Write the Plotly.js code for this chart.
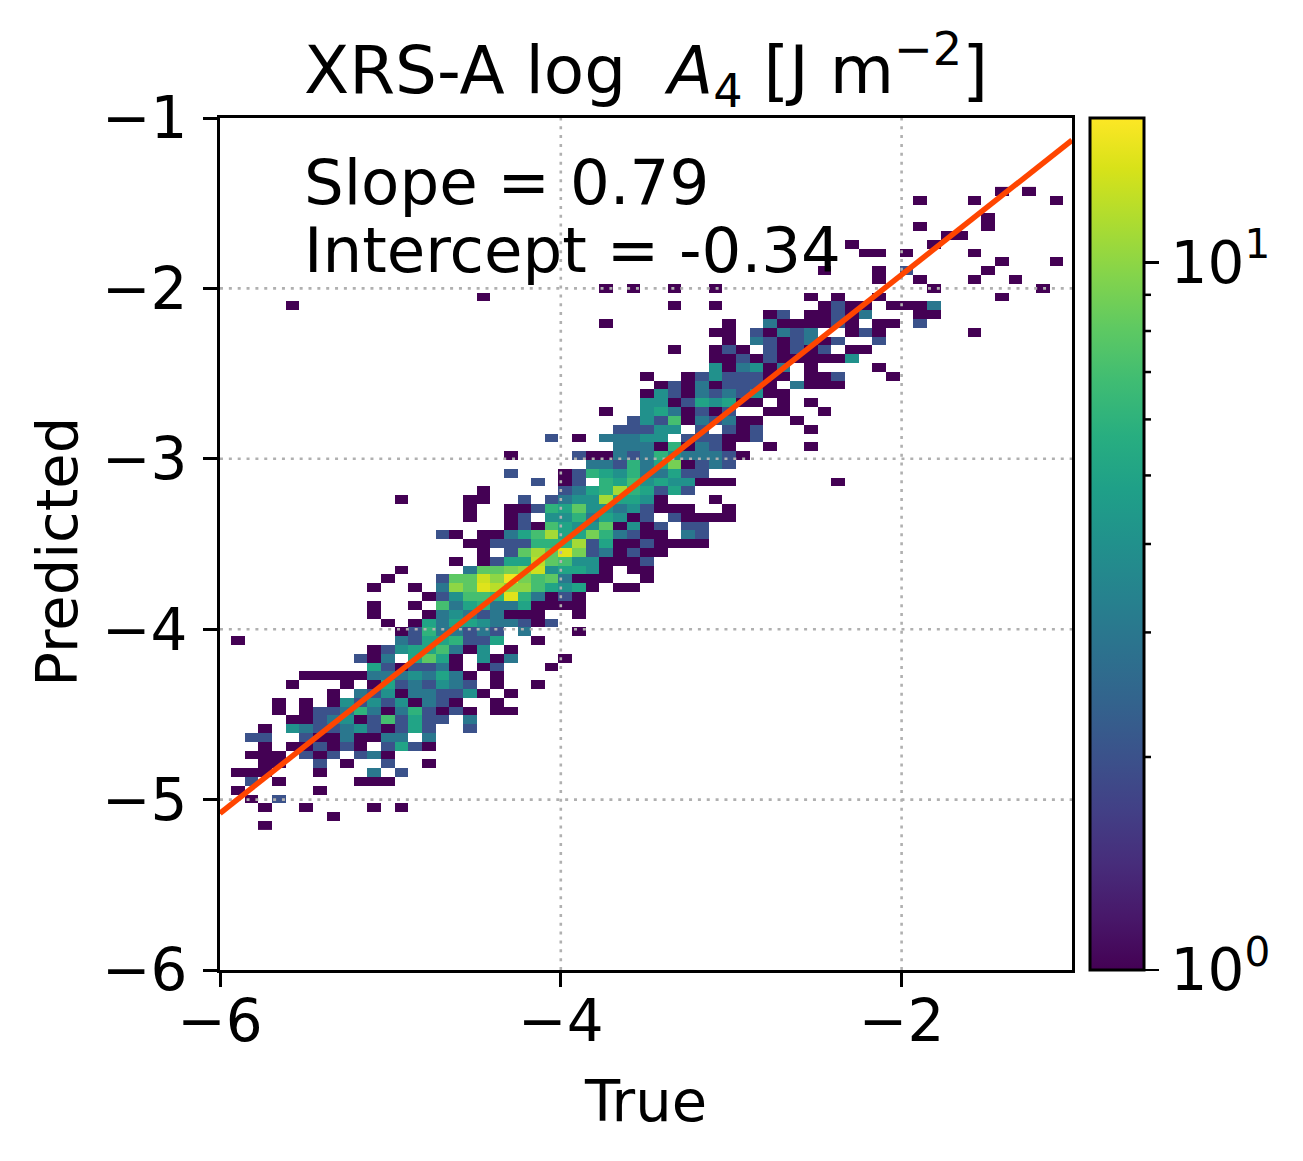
<!DOCTYPE html>
<html>
<head>
<meta charset="utf-8">
<title>XRS-A log A4</title>
<script src="https://cdn.plot.ly/plotly-3.0.1.min.js"></script>
<style>
  html, body { margin: 0; padding: 0; background: #fff; }
</style>
</head>
<body>
<div id="chart" style="width:1303px;height:1161px;"></div>
<script>
// Histogram bins
const BIN_X0 = -5.8954;
const BIN_DX = 0.0801;
const BIN_Y0 = -5.1526;
const BIN_DY = 0.0517;
const N_COLS = 62;
const N_ROWS = 73;
const COUNT_MAX = 16;

// [row from bottom, first column, counts in that row (0 = empty)]
const histSegments = [
  [0, 2, [1]],
  [1, 7, [1]],
  [2, 2, [1,0,0,1,0,0,0,0,1,0,1]],
  [3, 1, [1,0,2]],
  [4, 0, [1,0,0,0,0,0,1]],
  [5, 1, [2,0,1,0,0,0,0,0,1,1,1]],
  [6, 0, [1,1,1,0,0,0,1,0,0,0,3,0,2]],
  [7, 2, [1,1,0,0,2,0,1,0,0,2,0,0,1]],
  [8, 1, [1,1,1,0,2,1,2,0,2,3,1]],
  [9, 2, [1,0,1,1,2,1,2,1,0,2,5,2,1]],
  [10, 1, [2,2,0,0,2,1,1,3,1,1,3,3,0,3]],
  [11, 2, [1,0,4,3,2,2,3,4,2,1,2,5,2,0,0,2]],
  [12, 4, [1,1,2,3,4,1,2,7,2,5,2,2,0,3]],
  [13, 3, [1,0,1,2,2,3,6,3,1,3,6,2,1,2,1,0,1,1]],
  [14, 3, [1,0,1,0,1,4,2,4,2,4,1,3,2,1,0,0,1]],
  [15, 7, [1,0,3,2,4,1,3,3,2,2,4,1,0,1]],
  [16, 4, [1,0,0,0,1,0,1,5,2,3,2,4,3,2,0,1,0,0,1]],
  [17, 5, [1,1,1,1,1,3,3,3,4,3,5,3,1,0,1]],
  [18, 10, [5,2,1,2,2,3,1,0,1,2,0,0,0,1]],
  [19, 9, [2,1,3,0,5,8,5,1,0,4,1,3,0,0,0,1]],
  [20, 10, [1,2,4,5,5,7,3,1,4,0,1]],
  [21, 0, [1]],
  [21, 12, [3,2,5,5,6,2,2,5,0,0,1]],
  [22, 12, [1,2,6,3,3,2,3,2,0,3,0,0,0,1]],
  [23, 11, [1,0,1,5,3,5,5,4,3,3,2,1,2]],
  [24, 10, [1,0,0,0,1,3,4,3,2,3,1,1,1,0,0,1]],
  [25, 10, [1,0,0,1,0,7,3,5,6,3,3,5,1,1,1,1]],
  [26, 14, [1,2,4,7,7,6,14,6,3,1,2,1]],
  [27, 10, [1,0,0,1,0,3,10,8,14,12,10,10,7,5,4,5,1,0,1,1]],
  [28, 11, [1,0,0,0,2,8,8,13,10,15,9,7,8,3,1,1,1,0,0,1]],
  [29, 12, [1,0,0,0,0,3,8,8,9,10,13,4,5,5,4,1,0,1,1]],
  [30, 16, [1,0,1,2,5,5,12,8,7,4,4,1,1,1,2]],
  [31, 18, [1,0,2,8,11,8,14,9,2,3,1,2,1,1]],
  [32, 17, [1,1,2,2,2,6,6,6,11,2,5,1,1,2,1,1,1,1]],
  [33, 15, [2,1,0,1,1,3,5,7,11,5,5,9,6,3,2,1,1,0,3,2]],
  [34, 20, [1,2,1,7,5,4,4,8,1,4,1,2,0,2,2]],
  [35, 17, [1,0,0,1,2,0,4,4,6,3,5,4,1,2,0,2,1,1,1,1]],
  [36, 17, [1,0,0,1,1,2,6,5,8,4,4,3,4,2,1,1,1,0,0,1]],
  [37, 12, [1,0,0,0,0,1,1,0,0,2,0,2,3,4,4,11,5,5,4,1,0,0,0,1]],
  [38, 18, [1,0,0,0,0,0,2,3,5,6,11,6,5,2,5,2]],
  [39, 22, [2,0,1,2,0,6,5,7,4,5,4,4,1,1,1]],
  [39, 44, [1]],
  [40, 20, [2,0,0,0,1,2,6,5,4,6,3,3,5,2,2]],
  [41, 26, [3,3,2,6,3,5,9,1,2,3,2]],
  [42, 20, [1,0,0,0,0,2,1,1,3,2,3,6,4,3,3,3,2,1]],
  [43, 28, [3,3,3,1,6,1,3,2,1,0,0,1,0,0,1]],
  [44, 23, [2,0,1,0,3,3,3,4,4,0,2,2,2,1,1,2]],
  [45, 28, [2,2,2,4,4,0,2,0,2,1,2,0,0,0,1]],
  [46, 29, [2,4,2,7,1,3,2,3,1,1,0,0,1]],
  [47, 27, [1,0,0,4,5,3,1,2,1,2,0,0,1,1,0,0,1]],
  [48, 30, [4,4,1,2,5,4,5,1,1,0,1,0,1]],
  [49, 30, [1,4,2,1,3,2,3,2,4,1,1]],
  [50, 31, [1,2,1,3,1,2,2,2,1,0,3,1,1,1]],
  [51, 30, [1,0,0,1,2,4,2,2,2,1,1,0,1,1,2,0,0,0,1]],
  [52, 35, [4,1,3,4,1,3,0,1,0,0,0,0,1]],
  [53, 35, [1,1,2,1,2,1,1,1,1,1,4]],
  [54, 32, [1,0,0,1,2,1,0,2,1,2,1,2,0,1,1]],
  [55, 36, [1,0,3,2,1,2,3,1,2,0,0,2]],
  [56, 35, [1,1,0,2,1,3,2,3,0,0,1,2,1]],
  [56, 54, [1]],
  [57, 27, [1]],
  [57, 36, [1,0,0,3,1,1,1,1,2,1,0,1,1,0,2]],
  [58, 39, [1,2,0,1,1,2,1,3,0,0,0,1,1]],
  [59, 4, [1]],
  [59, 32, [1,0,0,1]],
  [59, 43, [1,2,1,1,0,1,1,1,3]],
  [60, 18, [1]],
  [60, 42, [1,0,1,0,0,1]],
  [60, 56, [1]],
  [61, 27, [1,0,1,0,0,1,0,0,1]],
  [61, 51, [1]],
  [61, 59, [1]],
  [62, 47, [1,0,0,1]],
  [62, 54, [1,0,0,1]],
  [63, 43, [1,0,0,0,1,0,2]],
  [63, 55, [1]],
  [64, 56, [1,0,0,0,1]],
  [65, 46, [1,1,0,1]],
  [65, 54, [1]],
  [66, 45, [1]],
  [66, 51, [1]],
  [67, 52, [1,1]],
  [68, 50, [1]],
  [68, 55, [1]],
  [69, 55, [1]],
  [71, 50, [1,0,0,0,1]],
  [71, 60, [1]],
  [72, 56, [1,0,1]]
];

// Regression line end points
const fitX = [-6, -1];
const fitY = [-5.08, -1.13];

const xTicks = [-6, -4, -2];
const yTicks = [-6, -5, -4, -3, -2, -1];
const xGridAt = [-4, -2];
const yGridAt = [-5, -4, -3, -2];
const cbarMajor = [1, 10];
const cbarLabels = ['10<sup>0</sup>', '10<sup>1</sup>'];
const cbarMinor = [2, 3, 4, 5, 6, 7, 8, 9];

const FONT = '"DejaVu Sans", sans-serif';
const GRID_DASH = '3px,5.85px';

// Empty bins stay blank, the rest are coloured on a log scale
const z = [];
for (let r = 0; r < N_ROWS; r++) z.push(new Array(N_COLS).fill(null));
histSegments.forEach(function(seg) {
    seg[2].forEach(function(count, i) {
        if (count > 0) z[seg[0]][seg[1] + i] = Math.log10(count);
    });
});

const traces = [{
    type: 'heatmap',
    z: z,
    x0: BIN_X0,
    dx: BIN_DX,
    y0: BIN_Y0,
    dy: BIN_DY,
    colorscale: 'Viridis',
    zmin: 0,
    zmax: Math.log10(COUNT_MAX),
    hoverongaps: false,
    colorbar: {
        x: 1.0211,
        xanchor: 'left',
        xpad: 0,
        y: 0.5,
        yanchor: 'middle',
        ypad: 0,
        thickness: 54,
        thicknessmode: 'pixels',
        len: 852,
        lenmode: 'pixels',
        outlinewidth: 3,
        outlinecolor: '#000',
        tickmode: 'array',
        tickvals: cbarMajor.map(function(c) { return Math.log10(c); }),
        ticktext: cbarLabels,
        ticks: 'outside',
        ticklen: 14,
        tickwidth: 2.5,
        tickcolor: '#000',
        tickfont: { family: FONT, size: 58, color: '#000' }
    }
}];

// Grid goes in as traces because a heatmap would cover the axis grid
xGridAt.forEach(function(v) {
    traces.push({
        type: 'scatter', mode: 'lines', x: [v, v], y: [-6, -1],
        line: { color: '#b0b0b0', width: 2.6, dash: GRID_DASH },
        hoverinfo: 'skip', showlegend: false
    });
});
yGridAt.forEach(function(v) {
    traces.push({
        type: 'scatter', mode: 'lines', x: [-6, -1], y: [v, v],
        line: { color: '#b0b0b0', width: 2.6, dash: GRID_DASH },
        hoverinfo: 'skip', showlegend: false
    });
});

traces.push({
    type: 'scatter', mode: 'lines', x: fitX, y: fitY,
    line: { color: '#ff4500', width: 5.5 },
    hoverinfo: 'skip', showlegend: false
});

const axisStyle = {
    showgrid: false,
    zeroline: false,
    showline: true,
    mirror: true,
    linecolor: '#000',
    linewidth: 3,
    ticks: 'outside',
    ticklen: 14,
    tickwidth: 3,
    tickcolor: '#000',
    tickmode: 'array',
    tickfont: { family: FONT, size: 58, color: '#000' }
};

const layout = {
    width: 1303,
    height: 1161,
    margin: { l: 220, r: 231, t: 118, b: 191, pad: 0 },
    paper_bgcolor: '#fff',
    plot_bgcolor: '#fff',
    showlegend: false,
    title: {
        text: 'XRS-A log  <i>A</i><sub>4</sub> [J m<sup>\u22122</sup>]',
        font: { family: FONT, size: 66, color: '#000' },
        x: 646 / 1303,
        xanchor: 'center',
        y: 1 - 93 / 1161,
        yanchor: 'bottom'
    },
    xaxis: Object.assign({}, axisStyle, {
        range: [-6, -1],
        tickvals: xTicks,
        ticklabelstandoff: -16,
        title: { text: 'True', font: { family: FONT, size: 57.5, color: '#000' }, standoff: 28 }
    }),
    yaxis: Object.assign({}, axisStyle, {
        range: [-6, -1],
        tickvals: yTicks,
        ticklabelstandoff: 4
    }),
    annotations: [
        {
            text: 'Predicted', xref: 'paper', yref: 'paper', x: -0.19, y: 0.491,
            xanchor: 'center', yanchor: 'middle', textangle: -90, showarrow: false,
            font: { family: FONT, size: 57.5, color: '#000' }
        },
        {
            text: 'Slope = 0.79', xref: 'paper', yref: 'paper', x: 0.0965, y: 0.9247,
            xanchor: 'left', yanchor: 'middle', showarrow: false,
            font: { family: FONT, size: 62.6, color: '#000' }
        },
        {
            text: 'Intercept = -0.34', xref: 'paper', yref: 'paper', x: 0.0965, y: 0.8447,
            xanchor: 'left', yanchor: 'middle', showarrow: false,
            font: { family: FONT, size: 62.6, color: '#000' }
        }
    ],
    // colorbar minor ticks, a colorbar only takes one tick length
    shapes: cbarMinor.map(function(c) {
        const yPos = Math.log10(c) / Math.log10(COUNT_MAX);
        return {
            type: 'line', xref: 'paper', yref: 'paper',
            x0: 1.0845, x1: 1.0927, y0: yPos, y1: yPos,
            line: { color: '#000', width: 2.5 }
        };
    })
};

Plotly.newPlot('chart', traces, layout, { displayModeBar: false, staticPlot: true });
</script>
</body>
</html>
